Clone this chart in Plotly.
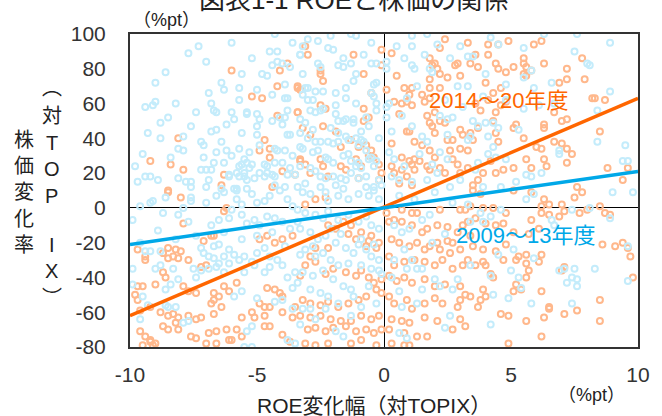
import plotly.graph_objects as go

# ---------------- data ----------------
# (ROE change vs TOPIX [%pt], share price change vs TOPIX [%pt])
blue_points = [  # FY2009-13
    (-4.3, 100), (-6.0, 95), (-7.3, 93), (-7.7, 89), (-4.5, 90), (-4.2, 90), (-3.3, 88), (-4.4, 82), (-4.2, 84),
    (-4.0, 83), (-3.7, 81), (-5.6, 77), (-4.8, 77), (-4.6, 76), (-9.0, 72), (-6.4, 72), (-6.3, 68), (-5.7, 69),
    (-5.0, 68), (-3.9, 71), (-4.4, 65), (-5.7, 62), (-3.9, 63), (-3.8, 63), (-9.0, 61), (-9.1, 59), (-9.4, 58),
    (-8.2, 60), (-6.8, 60), (-6.7, 56), (-6.6, 55), (-6.0, 55), (-5.9, 51), (-5.4, 55), (-5.4, 54), (-5.0, 54),
    (-4.9, 51), (-4.4, 50), (-4.1, 52), (-3.9, 52), (-4.0, 48), (-3.8, 56), (-8.8, 49), (-6.8, 44), (-6.6, 45),
    (-5.6, 43), (-5.0, 47), (-5.0, 42), (-3.8, 42), (-3.7, 42), (-8.8, 40), (-7.9, 41), (-7.2, 38), (-7.1, 36),
    (-6.4, 38), (-8.1, 34), (-7.9, 33), (-6.6, 32), (-6.2, 33), (-5.7, 34), (-5.3, 32), (-9.5, 31), (-7.1, 29),
    (-6.7, 26), (-6.3, 26), (-5.5, 28), (-5.6, 25), (-5.4, 26), (-5.2, 25), (-5.3, 23), (-5.7, 24), (-4.7, 25),
    (-4.6, 24), (-4.3, 26), (-4.2, 33), (-4.3, 34), (-4.0, 26), (-3.9, 33), (-7.2, 22), (-7.0, 22), (-6.8, 22),
    (-9.4, 18), (-9.2, 18), (-8.9, 16), (-8.1, 17), (-7.8, 15), (-7.6, 15), (-7.6, 12), (-9.7, 15), (-7.0, 12),
    (-6.1, 18), (-6.1, 19), (-5.8, 20), (-5.7, 18), (-5.5, 18), (-5.4, 16), (-5.5, 20), (-5.1, 17), (-4.9, 20),
    (-4.7, 18), (-4.6, 20), (-4.4, 19), (-4.3, 18), (-4.3, 13), (-3.8, 19), (-3.7, 23), (-3.5, 19), (-3.4, 12),
    (-3.9, 12), (-6.4, 11), (-5.9, 11), (-5.8, 11), (-5.4, 11),
    (-3.0, 97), (-2.1, 99), (-1.3, 100), (-1.1, 99), (1.1, 99), (1.7, 100), (-3.2, 93), (-3.3, 88), (-2.2, 92),
    (-2.0, 91), (-1.6, 86), (-1.8, 82), (-1.6, 81), (-1.3, 83), (-0.8, 88), (-0.5, 83), (-0.3, 83), (-2.6, 83),
    (-2.5, 81), (-3.2, 77), (-1.1, 77), (-1.2, 73), (-0.4, 71), (-0.3, 72), (-1.5, 69), (-1.9, 66), (-3.1, 69),
    (-3.0, 69), (-2.7, 67), (-2.4, 67), (-3.2, 65), (-3.0, 62), (-2.8, 62), (-1.5, 63), (-0.5, 66), (-0.4, 64),
    (-0.3, 60), (-1.9, 59), (-2.4, 57), (-2.5, 56), (-2.9, 56), (-2.7, 55), (-1.9, 54), (-1.8, 50), (-1.6, 50),
    (-1.5, 51), (-1.2, 51), (-1.2, 49), (-0.3, 56), (0.1, 58), (0.1, 52), (-3.3, 51), (-3.1, 49), (-2.8, 45),
    (-3.3, 43), (-2.1, 46), (-3.0, 40), (-2.7, 38), (-2.5, 38), (-2.2, 38), (-2.0, 37), (-1.8, 38), (-1.8, 43),
    (-1.5, 41), (-1.4, 39), (-1.1, 40), (-0.9, 39), (-0.8, 38), (-1.0, 36), (-0.7, 33), (-3.3, 35), (-3.2, 34),
    (-2.8, 32), (-2.3, 29), (-2.2, 28), (-2.0, 26), (-1.6, 30), (-1.4, 31), (-1.3, 27), (-1.1, 24), (-1.0, 26),
    (-0.9, 23), (-0.6, 28), (-0.5, 29), (-0.3, 27), (-0.4, 24), (-3.3, 24), (-2.9, 23), (-2.7, 21), (-2.5, 18),
    (-2.3, 17), (-2.0, 18), (-1.7, 17), (-1.5, 16), (-1.3, 20), (-1.0, 17), (-0.7, 18), (-0.2, 16), (-0.1, 13),
    (-0.4, 12), (-0.7, 12),
    (0.5, 93), (1.1, 93), (0.8, 86), (1.1, 82), (1.2, 80), (2.1, 94), (3.0, 93), (1.8, 80), (1.9, 78), (0.1, 84),
    (0.1, 80), (0.2, 60), (0.7, 53), (0.3, 44), (1.1, 47), (1.5, 41), (1.7, 38), (2.2, 32), (2.5, 28), (0.2, 32),
    (0.4, 28), (0.8, 24), (2.2, 53), (2.5, 51), (2.7, 52), (2.5, 42), (1.9, 25), (2.1, 20), (0.3, 18), (0.6, 16),
    (1.1, 15), (1.7, 16), (2.6, 12), (3.0, 16), (1.4, 31),
    (4.2, 98), (4.5, 94), (5.5, 92), (6.3, 100), (7.6, 100), (8.9, 95), (3.3, 87), (3.5, 87), (7.5, 90), (8.0, 83),
    (8.1, 82), (4.0, 77), (4.8, 71), (5.8, 79), (5.5, 75), (6.6, 72), (5.9, 69), (3.3, 70), (8.9, 67), (3.9, 64),
    (4.8, 62), (6.7, 60), (5.5, 57), (6.1, 59), (8.4, 56), (3.5, 50), (3.7, 47), (4.0, 49), (4.3, 49), (5.3, 45),
    (4.5, 46), (3.3, 39), (3.4, 41), (4.1, 41), (4.3, 35), (4.1, 31), (8.4, 38), (9.5, 36), (6.9, 33), (6.9, 31),
    (4.8, 28), (4.4, 29), (3.7, 26), (5.6, 19), (5.8, 18), (6.2, 20), (9.4, 27), (9.6, 27), (3.9, 12), (4.6, 12),
    (5.2, 15),
    (-9.6, 1), (-9.2, 3), (-9.1, 4), (-8.7, -3), (-8.1, -4), (-7.9, 0), (-7.7, -8), (-7.6, 6), (-7.6, 4), (-8.6, 6),
    (-7.0, 3), (-6.6, 7), (-6.3, 9), (-5.8, 5), (-5.6, 2), (-5.8, 10), (-5.2, 8), (-5.0, 3), (-4.7, 4), (-4.5, 7),
    (-4.1, 10), (-3.8, 5), (-3.6, 1), (-6.8, -10), (-6.5, -7), (-6.1, -6), (-6.0, -1), (-5.6, -4), (-5.4, -9),
    (-5.1, -7), (-4.9, -10), (-4.6, -5), (-4.3, -6), (-4.0, -8), (-3.7, -12), (-3.4, -8), (-7.4, -16), (-7.2, -23),
    (-7.1, -26), (-6.9, -28), (-6.7, -29), (-6.5, -32), (-6.1, -24), (-5.9, -27), (-5.7, -30), (-5.5, -28),
    (-5.2, -31), (-5.0, -26), (-4.7, -23), (-4.5, -28), (-4.2, -30), (-4.0, -33), (-6.7, -22), (-6.5, -21),
    (-6.3, -28), (-6.1, -32), (-9.6, -20), (-9.4, -25), (-9.2, -25), (-8.8, -25), (-9.9, -7), (-9.9, -35),
    (-9.9, -44), (-9.0, -35), (-8.8, -33), (-8.3, -35), (-8.1, -41), (-8.4, -44), (-8.6, -47), (-7.5, -35),
    (-7.2, -36), (-7.4, -40), (-6.9, -35), (-6.6, -34), (-6.3, -37), (-5.5, -37), (-5.1, -33), (-4.7, -37),
    (-4.5, -34), (-5.6, -48), (-5.9, -51), (-5.0, -52), (-3.8, -40), (-3.5, -37), (-9.5, -51), (-9.3, -56),
    (-9.6, -64), (-8.6, -56), (-8.5, -57), (-8.2, -57), (-7.9, -66), (-7.7, -65), (-4.3, -54), (-4.0, -53),
    (-3.6, -58), (-5.5, -80), (-5.2, -80), (-5.2, -68), (-5.4, -71), (-3.5, -78), (-3.8, -76),
    (-3.2, 9), (-2.9, 8), (-2.3, 9), (-2.2, 4), (-1.8, 7), (-1.4, 5), (-1.0, 8), (-0.6, 7), (-0.4, 10), (-0.2, 5),
    (-3.4, -1), (-3.1, -3), (-2.7, -4), (-2.4, -6), (-2.2, -2), (-1.8, -7), (-1.4, -4), (-1.0, -8), (-0.7, -5),
    (-0.5, -10), (-0.2, -12), (-3.3, -12), (-2.9, -14), (-2.6, -18), (-2.3, -16), (-1.9, -20), (-1.5, -23),
    (-1.2, -26), (-1.0, -21), (-0.7, -24), (-0.5, -28), (-0.2, -30), (-3.1, -24), (-2.7, -28), (-2.4, -26),
    (-2.1, -30), (-1.8, -33), (-1.4, -32), (-0.9, -33), (-0.5, -35), (-0.2, -36), (-0.1, -38), (-3.2, -37),
    (-2.8, -39), (-2.4, -36), (-2.0, -41), (-1.6, -45), (-1.3, -47), (-3.4, -43), (-2.9, -47), (-2.5, -49),
    (-2.2, -51), (-1.8, -55), (0.4, -10), (0.7, -14), (1.0, -12), (1.5, -7), (1.8, -4), (0.8, -24), (0.4, -30),
    (1.1, -30), (0.9, -35), (1.3, -35), (1.5, -35), (2.0, -41), (2.2, -45), (2.9, -41), (2.7, -47), (0.7, -57),
    (1.3, -55), (1.5, -47), (2.6, -62), (2.4, -69), (-3.2, -58), (-2.9, -58), (-3.3, -67), (-2.7, -64),
    (-0.9, -57), (-1.3, -62), (-1.9, -71), (-1.6, -74), (0.9, -75), (0.6, -72),
    (3.3, 2), (3.8, -3), (4.2, -5), (4.6, -1), (5.6, 5), (5.9, 8), (6.6, -7), (6.7, -10), (7.4, -1), (8.1, 0),
    (8.9, -6), (9.0, 9), (9.8, 9), (3.4, -8), (3.9, -8), (4.5, -27), (5.1, -24), (5.9, -29), (3.4, -33),
    (4.2, -39), (5.0, -36), (5.3, -40), (5.4, -46), (6.9, -36), (7.1, -35), (7.5, -35), (8.3, -35), (7.4, -40),
    (7.6, -41), (7.2, -43), (7.6, -45), (9.6, -22), (9.6, -42), (4.3, -50), (4.9, -52), (5.8, -55), (7.4, -55),
    (4.2, -67),
    # extra points in the densest blue zones (upper-left and around the origin)
    (-8.6, 78), (-7.0, 84), (-5.2, 86), (-3.6, 95), (-2.6, 96), (-0.5, 95), (-6.9, 66), (-8.5, 52), (-7.6, 47),
    (-9.3, 43), (-6.2, 48), (-7.4, 55), (-9.8, 24), (-8.4, 29), (-3.6, 30), (-3.1, 14), (-2.5, 12), (-1.9, 13),
    (-1.6, 11), (-2.6, 33), (-0.9, 44), (-0.6, 47), (-0.2, 40), (-1.1, 60), (-0.7, 52), (-8.9, -13), (-8.2, -18),
    (-6.3, -14), (-5.6, -18), (-5.0, -16), (-4.4, -14), (-3.9, -22), (-3.3, -27), (-2.8, -22), (-2.1, -12),
    (-1.7, -15), (-0.9, -18), (-0.4, -21), (-3.6, -46), (-2.3, -58), (-1.2, -51), (-0.6, -45), (-0.3, -55),
    (0.3, -40), (0.6, -48), (1.9, -20), (2.4, -15), (1.2, 5), (2.0, 9), (2.7, 3), (0.6, 7), (3.6, 22), (0.9, 63),
    (1.3, 70), (2.4, 62), (2.9, 70), (3.1, 58), (1.6, 88), (2.6, 86), (-6.0, 30), (-4.9, 36), (-6.9, 16),
]

orange_points = [  # FY2014-20
    (-6.0, 79), (-3.8, 83), (-4.1, 79), (-4.2, 70), (-3.4, 69), (-5.2, 64), (-4.8, 63), (-4.2, 53), (-3.4, 55),
    (-8.1, 40), (-4.7, 39), (-4.5, 34), (-4.9, 33), (-4.5, 29), (-9.2, 27), (-8.4, 25), (-7.9, 22), (-6.3, 19),
    (-4.0, 21), (-3.5, 19), (-4.4, 12), (-6.4, 13), (-8.5, 10), (-3.3, 27),
    (-3.0, 88), (-3.1, 93), (-1.2, 88), (-0.8, 77), (-2.5, 79), (-2.5, 77), (-2.4, 73), (-3.4, 70), (-3.3, 68),
    (-0.1, 91), (-0.1, 82), (-0.5, 66), (0.1, 68), (-2.5, 59), (-2.3, 57), (-3.4, 55), (-0.8, 57), (-0.6, 52),
    (-0.8, 50), (-3.2, 46), (-2.4, 47), (-1.9, 44), (-2.9, 42), (-1.7, 35), (-1.3, 39), (-1.0, 35), (-0.7, 36),
    (-0.5, 33), (-0.6, 30), (-0.4, 29), (-1.1, 28), (-1.5, 22), (-3.3, 28), (-3.1, 25), (-2.5, 28), (-2.4, 24),
    (-0.9, 24), (-1.7, 24), (-1.0, 17), (-2.9, 20), (-2.2, 18), (-0.2, 25), (-0.1, 20), (-0.2, 16),
    (0.3, 89), (0.5, 76), (0.8, 69), (1.1, 69), (1.0, 65), (0.9, 61), (0.4, 61), (0.7, 60), (0.6, 54), (1.1, 59),
    (0.9, 44), (1.0, 44), (0.3, 37), (0.7, 29), (1.0, 27), (1.1, 25), (1.2, 28), (1.4, 27), (2.4, 97), (2.2, 92),
    (1.8, 86), (2.0, 83), (2.1, 80), (1.9, 82), (2.2, 77), (2.8, 82), (2.9, 83), (3.0, 76), (2.5, 75), (1.8, 74),
    (1.8, 69), (2.2, 69), (1.5, 65), (1.6, 61), (1.8, 63), (2.0, 55), (2.4, 49), (1.7, 53), (1.8, 49), (1.9, 47),
    (2.2, 50), (2.0, 43), (3.0, 45), (3.1, 42), (2.7, 39), (3.0, 34), (3.3, 33), (2.5, 39), (2.6, 33), (1.8, 33),
    (2.0, 29), (1.2, 38), (1.5, 36), (0.7, 22), (0.9, 18), (1.1, 13), (1.2, 22), (1.7, 24), (1.8, 22), (2.2, 23),
    (2.4, 20), (2.7, 28), (2.9, 25), (3.0, 20), (3.3, 23), (0.3, 24), (0.4, 20), (0.6, 14),
    (3.3, 95), (4.1, 94), (4.5, 94), (4.9, 96), (5.9, 94), (6.2, 96), (3.6, 88), (4.1, 88), (4.4, 83), (4.5, 80),
    (5.5, 86), (5.5, 83), (5.6, 81), (3.7, 81), (3.4, 83), (4.8, 78), (5.1, 81), (5.5, 77), (5.6, 76), (5.8, 79),
    (6.3, 83), (7.2, 80), (7.2, 74), (6.9, 72), (7.8, 86), (7.9, 74), (4.0, 72), (4.6, 69), (4.3, 66), (4.1, 62),
    (3.6, 60), (3.8, 56), (4.4, 55), (4.3, 50), (4.6, 59), (4.8, 61), (8.2, 63), (8.3, 63), (8.7, 62), (6.7, 55),
    (7.0, 50), (7.2, 51), (6.3, 48), (6.3, 46), (5.2, 48), (5.1, 46), (3.4, 43), (3.5, 39), (3.7, 46), (4.4, 43),
    (4.5, 38), (5.5, 40), (6.0, 35), (6.2, 34), (6.7, 38), (7.0, 37), (7.2, 34), (7.4, 31), (7.2, 26), (5.6, 28),
    (5.8, 23), (5.1, 23), (4.7, 22), (4.4, 20), (4.2, 27), (3.7, 16), (3.9, 20), (3.5, 13), (8.5, 44), (8.8, 23),
    (9.6, 23), (9.4, 16), (6.3, 28), (6.4, 24), (7.6, 12),
    (-8.5, 9), (-8.0, 6), (-7.9, -9), (-6.8, -16), (-7.1, -19), (-6.7, -16), (-6.2, 0), (-6.3, -2), (-4.9, -18),
    (-4.6, -16), (-4.3, -20), (-4.0, -18), (-3.6, -16), (-8.7, -26), (-8.5, -23), (-8.2, -24), (-8.0, -25),
    (-8.1, -29), (-8.5, -29), (-8.3, -28), (-9.7, -24), (-9.4, -30), (-9.4, -28), (-7.7, -30), (-7.2, -34),
    (-7.0, -33), (-8.6, -40), (-8.7, -37), (-9.7, -45), (-9.5, -45), (-9.0, -44), (-7.9, -45), (-7.7, -48),
    (-7.4, -49), (-6.3, -45), (-6.1, -48), (-5.8, -43), (-6.7, -49), (-6.7, -53), (-6.5, -51), (-4.6, -46),
    (-4.3, -47), (-4.1, -49), (-4.0, -51), (-4.9, -55), (-4.7, -57), (-4.5, -57), (-9.8, -50), (-9.7, -53),
    (-9.2, -57), (-9.6, -59), (-8.8, -60), (-8.5, -62), (-8.3, -61), (-8.1, -63), (-7.7, -62), (-7.4, -64),
    (-7.2, -63), (-6.8, -55), (-6.7, -61), (-6.4, -57), (-5.2, -60), (-5.1, -63), (-5.6, -63), (-4.7, -62),
    (-4.0, -60), (-3.6, -63), (-3.5, -57), (-9.6, -71), (-9.4, -74), (-9.2, -77), (-9.0, -78), (-9.2, -76),
    (-8.7, -68), (-8.5, -70), (-8.2, -66), (-8.1, -70), (-7.6, -74), (-7.4, -75), (-6.9, -72), (-6.6, -71),
    (-6.2, -70), (-6.1, -76), (-6.0, -76), (-5.8, -70), (-5.6, -74), (-4.7, -68), (-4.5, -68), (-4.0, -73),
    (-3.7, -77), (-7.0, -78), (-6.6, -78), (-9.5, -79), (-9.1, -79),
    (-3.3, -39), (-3.1, -33), (-2.7, -31), (-2.3, -38), (-2.0, -35), (-1.5, -37), (-1.1, -39), (-0.9, -36),
    (-0.6, -40), (-0.4, -43), (-0.1, -41), (-3.2, -53), (-2.9, -55), (-2.5, -56), (-2.2, -54), (-1.8, -57),
    (-1.4, -55), (-1.0, -53), (-0.7, -51), (-0.3, -47), (-0.1, -49), (-3.3, -62), (-2.9, -63), (-2.5, -62),
    (-2.1, -64), (-1.7, -65), (-1.3, -65), (-0.9, -62), (-0.5, -64), (-0.2, -62), (-3.0, -70), (-2.7, -69),
    (-2.3, -71), (-2.0, -69), (-1.5, -68), (-1.1, -71), (-0.7, -70), (-0.4, -72), (-0.1, -70), (-3.1, -78),
    (-2.7, -79), (-2.2, -78), (-1.3, -78), (-0.9, -76), (-0.3, -79), (-2.2, -10), (-1.9, -12), (-1.6, -8),
    (-1.3, -10), (-0.9, -14), (-0.5, -16), (-0.2, -20), (-0.6, -19), (-0.7, -22), (-0.3, -23), (-1.4, -15),
    (-1.1, -18), (0.2, -8), (0.4, -7), (0.7, -8), (1.1, -10), (1.5, -14), (1.7, -12), (2.1, -10), (2.5, -11),
    (2.9, -14), (3.1, -10), (0.3, -18), (0.6, -20), (1.0, -22), (1.3, -20), (1.6, -24), (1.8, -22), (2.2, -24),
    (2.6, -26), (3.0, -24), (0.2, -28), (0.4, -33), (0.8, -31), (1.2, -30), (1.6, -31), (2.0, -33), (2.3, -30),
    (2.7, -35), (3.1, -33), (0.2, -39), (0.5, -42), (0.8, -40), (1.1, -43), (1.6, -41), (2.0, -45), (2.4, -44),
    (3.0, -45), (3.2, -50), (0.2, -51), (0.4, -55), (0.9, -53), (1.1, -58), (1.6, -55), (2.0, -52), (2.3, -55),
    (2.9, -57), (3.0, -53), (0.3, -64), (0.7, -65), (1.0, -66), (1.6, -63), (2.1, -65), (3.0, -64), (0.2, -70),
    (0.8, -72), (1.3, -74), (1.7, -74), (2.7, -70), (0.3, -78), (0.8, -79), (1.0, -79), (0.7, -1), (1.1, -3),
    (0.1, -3), (1.3, -3), (2.2, -1), (3.0, -1), (2.1, -20), (2.5, -19), (2.7, -20), (-2.7, 5), (-2.3, 6),
    (-3.1, 2), (-2.7, -23), (-2.9, -28), (-2.2, -23),
    (3.5, 10), (3.8, 8), (5.1, 10), (5.8, 9), (6.3, 5), (6.5, 2), (7.0, 2), (7.5, 6), (7.8, 9), (8.5, 1),
    (6.2, 1), (3.2, -1), (3.4, 1), (3.9, 0), (4.3, 0), (4.8, -3), (5.8, -7), (6.2, -3), (6.5, -4), (6.9, -5),
    (7.1, -2), (7.7, -3), (8.0, -1), (8.7, -3), (8.9, -4), (3.3, -8), (3.6, -6), (4.0, -9), (4.4, -10),
    (4.7, -9), (5.1, -14), (5.7, -15), (6.1, -12), (3.4, -16), (3.5, -22), (3.9, -24), (4.4, -25), (4.8, -21),
    (3.3, -30), (3.6, -33), (4.0, -33), (3.9, -31), (4.7, -30), (5.3, -28), (5.6, -27), (6.2, -27), (5.6, -32),
    (5.2, -30), (5.7, -36), (5.6, -40), (6.1, -31), (7.0, -36), (7.1, -34), (4.3, -40), (4.2, -38), (5.2, -44),
    (5.1, -48), (3.9, -47), (3.4, -51), (3.8, -53), (4.0, -51), (3.7, -57), (5.4, -47), (6.2, -48), (6.5, -57),
    (6.5, -58), (7.1, -61), (7.6, -59), (8.5, -53), (8.5, -65), (4.6, -61), (4.9, -62), (5.6, -65), (6.3, -63),
    (3.2, -68), (6.2, -74), (4.9, -78), (8.6, -21), (9.1, -22), (9.4, -20), (9.6, -23), (9.7, -28), (9.8, -40),
]

# regression lines (end points read at the axis limits)
line_x = [-10, 10]
orange_line_y = [-62, 63]
blue_line_y = [-21, 21]

x_ticks = [-10, -5, 0, 5, 10]
y_ticks = [-80, -60, -40, -20, 0, 20, 40, 60, 80, 100]

label_orange = "2014～20年度"
label_blue = "2009～13年度"
title_text = "図表1-1 ROEと株価の関係"

# ---------------- figure ----------------
FONT = "Liberation Sans, Arial, Noto Sans CJK JP, sans-serif"
C_BLUE_PT = "rgb(196,236,251)"
C_ORANGE_PT = "rgb(255,184,140)"
C_BLUE = "rgb(0,168,232)"
C_ORANGE = "rgb(255,102,0)"
TXT = "#333333"

W, H = 662, 416
L, R, T, B = 130, 14, 34, 69
PW, PH = W - L - R, H - T - B


def px_x(px):
    return (px - L) / PW


def px_y(py):
    return (H - B - py) / PH


bx = [p[0] for p in blue_points]
by = [p[1] for p in blue_points]
ox = [p[0] for p in orange_points]
oy = [p[1] for p in orange_points]

fig = go.Figure()
fig.add_trace(go.Scatter(x=ox, y=oy, mode="markers",
                         marker=dict(symbol="circle-open", size=6, color=C_ORANGE_PT,
                                     line=dict(width=2, color=C_ORANGE_PT)),
                         showlegend=False, hoverinfo="skip"))
fig.add_trace(go.Scatter(x=bx, y=by, mode="markers",
                         marker=dict(symbol="circle-open", size=6, color=C_BLUE_PT,
                                     line=dict(width=2, color=C_BLUE_PT)),
                         showlegend=False, hoverinfo="skip"))
fig.add_trace(go.Scatter(x=line_x, y=orange_line_y, mode="lines",
                         line=dict(color=C_ORANGE, width=3.5), showlegend=False))
fig.add_trace(go.Scatter(x=line_x, y=blue_line_y, mode="lines",
                         line=dict(color=C_BLUE, width=3.5), showlegend=False))

fig.update_layout(
    width=W, height=H,
    margin=dict(l=L, r=R, t=T, b=B),
    paper_bgcolor="white", plot_bgcolor="white",
    font=dict(family=FONT, size=21, color=TXT),
    showlegend=False,
)
fig.update_xaxes(range=[-10, 10], tickvals=x_ticks, ticktext=[str(v) for v in x_ticks],
                 showgrid=False, zeroline=True, zerolinecolor="black", zerolinewidth=1,
                 showline=True, mirror=True, linecolor="#333333", linewidth=2,
                 ticks="", ticklabelstandoff=8, tickfont=dict(size=21, color=TXT))
fig.update_yaxes(range=[-80, 100], tickvals=y_ticks, ticktext=[str(v) for v in y_ticks],
                 showgrid=False, zeroline=True, zerolinecolor="black", zerolinewidth=1,
                 showline=True, mirror=True, linecolor="#333333", linewidth=2,
                 ticks="", ticklabelstandoff=18, tickfont=dict(size=21, color=TXT))

DARK = "#222222"
ann = []
ann.append(dict(text=title_text, x=px_x(358), y=px_y(0), xref="paper", yref="paper",
                showarrow=False, font=dict(size=26, color=DARK), xanchor="center", yanchor="middle"))
ann.append(dict(text="（%pt）", x=px_x(167), y=px_y(20), xref="paper", yref="paper",
                showarrow=False, font=dict(size=18, color=DARK), xanchor="center", yanchor="middle"))
ann.append(dict(text="（%pt）", x=px_x(601), y=px_y(395), xref="paper", yref="paper",
                showarrow=False, font=dict(size=18, color=DARK), xanchor="center", yanchor="middle"))
ann.append(dict(text="ROE変化幅（対TOPIX）", x=px_x(379), y=px_y(405), xref="paper", yref="paper",
                showarrow=False, font=dict(size=21, color=DARK), xanchor="center", yanchor="middle"))
ann.append(dict(text=label_orange, x=4.5, y=62, xref="x", yref="y", showarrow=False,
                font=dict(size=22, color=C_ORANGE), xanchor="center", yanchor="middle"))
ann.append(dict(text=label_blue, x=5.56, y=-16, xref="x", yref="y", showarrow=False,
                font=dict(size=22, color=C_BLUE), xanchor="center", yanchor="middle"))

# vertical y-axis title: two columns of stacked characters
col1 = ["株", "価", "変", "化", "率"]
col1_py = [140, 166, 192, 219, 245]
for ch, py in zip(col1, col1_py):
    ann.append(dict(text=ch, x=px_x(22), y=px_y(py), xref="paper", yref="paper",
                    showarrow=False, font=dict(size=20, color=DARK),
                    xanchor="center", yanchor="middle"))
col2 = ["︵", "対", "T", "O", "P", "I", "X", "︶"]
col2_py = [88, 116, 143, 169, 196, 245, 271, 298]
for ch, py in zip(col2, col2_py):
    ann.append(dict(text=ch, x=px_x(50), y=px_y(py), xref="paper", yref="paper",
                    showarrow=False, font=dict(size=20, color=DARK),
                    xanchor="center", yanchor="middle"))

fig.update_layout(annotations=ann)
fig.write_html("out.html", config={"displayModeBar": False},
               post_script="document.body.style.margin='0';")
